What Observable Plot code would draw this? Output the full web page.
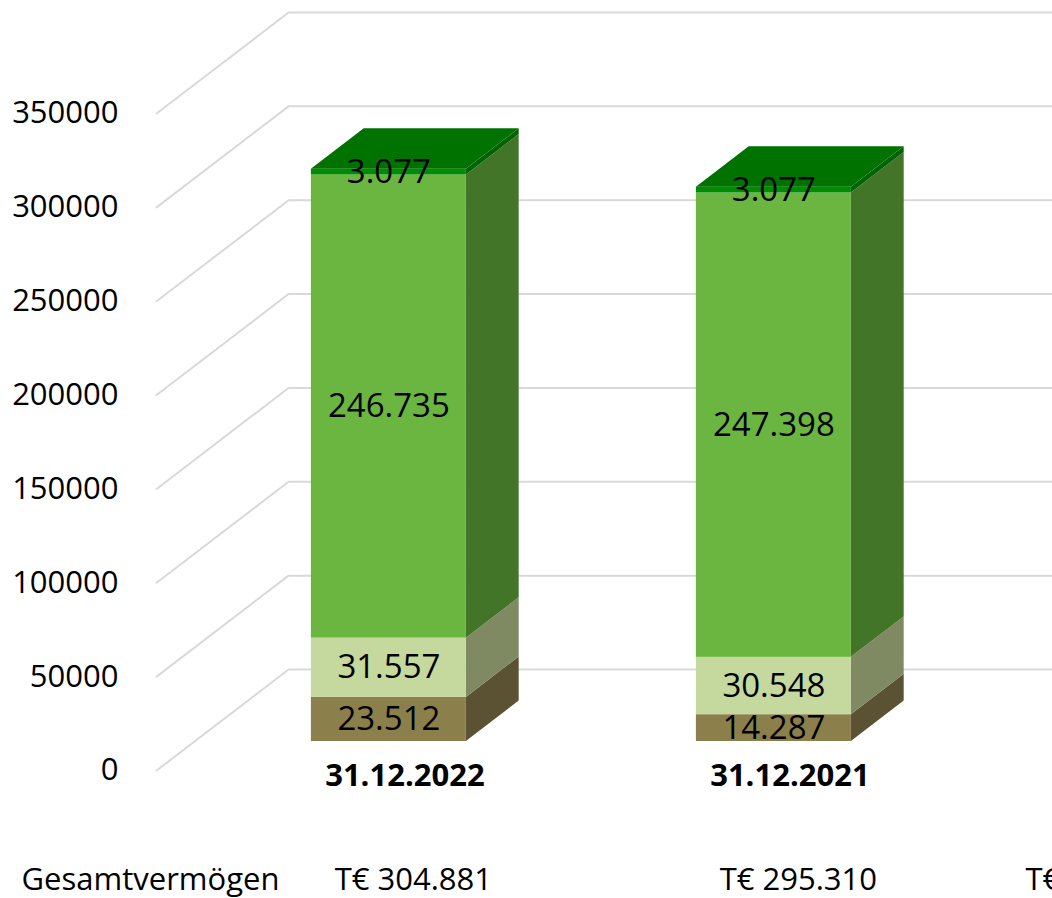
<!DOCTYPE html>
<html>
<head>
<meta charset="utf-8">
<script src="https://cdn.jsdelivr.net/npm/d3@7"></script>
<script src="https://cdn.jsdelivr.net/npm/@observablehq/plot@0.6"></script>
<style>
  html, body { margin: 0; padding: 0; background: #fff; overflow: hidden; }
  #chart svg { overflow: hidden !important; }
</style>
</head>
<body>
<div id="chart"></div>
<script>
// ---------- data ----------
const categories = ["31.12.2022", "31.12.2021"];
const segBrown = [23512, 14287];
const segLight = [31557, 30548];
const segGreen = [246735, 247398];
const segDark  = [3077, 3077];
const yTicks = [0, 50000, 100000, 150000, 200000, 250000, 300000, 350000];
const rowLabel = "Gesamtvermögen";
const partialLabel = ["T€"]; // third column, cut off at the right edge

// ---------- styles ----------
const frontColors = ["#8B7F4C", "#C5D89E", "#6AB641", "#008C00"];
const sideColors  = ["#5A5233", "#7F8A62", "#437529", "#006200"];
const topColor = "#007200";
const gridColor = "#d9d9d9";

// ---------- layout (3D oblique projection in data units) ----------
const W = 1052, H = 898;
const PX_PER_UNIT = 385;          // category spacing
const X0PX = 158;                 // pixel of floor front-left (x = -0.5)
const PX_PER_VAL = 1.8771 / 1000; // pixels per value unit
const Y0PX = 770;                 // pixel of value 0 on the front plane
const xDomain = [-0.5 - X0PX / PX_PER_UNIT, -0.5 + (W - X0PX) / PX_PER_UNIT];
const yDomain = [-(H - Y0PX) / PX_PER_VAL, Y0PX / PX_PER_VAL];
const DX = 132 / PX_PER_UNIT;     // full depth offset in x units
const DV = 101 / PX_PER_VAL;      // full depth offset in value units
const z0 = 0.287, z1 = 0.687;     // bar depth range
const halfW = 77.5 / PX_PER_UNIT;

const series = [segBrown, segLight, segGreen, segDark];
const de = d3.formatLocale({decimal: ",", thousands: ".", grouping: [3], currency: ["", "€"]});
const fmt = de.format(",d");

const fronts = [], sides = [], tops = [], labels = [], totals = [];
categories.forEach((cat, i) => {
  let acc = 0;
  series.forEach((vals, k) => {
    const a = acc, b = acc + vals[i];
    acc = b;
    fronts.push({k, x1: i - halfW + z0 * DX, x2: i + halfW + z0 * DX, y1: a + z0 * DV, y2: b + z0 * DV});
    const id = `${i}-${k}`;
    sides.push({id, k, x: i + halfW + z0 * DX, y1: a + z0 * DV, y2: b + z0 * DV});
    sides.push({id, k, x: i + halfW + z1 * DX, y1: a + z1 * DV, y2: b + z1 * DV});
    labels.push({x: i + z0 * DX, y: (a + b) / 2 + z0 * DV, text: fmt(vals[i])});
  });
  tops.push({id: i, y: acc + z0 * DV, x1: i - halfW + z0 * DX, x2: i + halfW + z0 * DX});
  tops.push({id: i, y: acc + z1 * DV, x1: i - halfW + z1 * DX, x2: i + halfW + z1 * DX});
  totals.push({x: i + 0.162, text: "T€ " + fmt(acc)});
});

const grid = [];
yTicks.forEach(t => {
  grid.push({t, x: -0.505, y: t});
  grid.push({t, x: -0.505 + DX, y: t + DV});
  grid.push({t, x: 3, y: t + DV});
});

const chart = Plot.plot({
  width: W,
  height: H,
  margin: 0,
  style: {fontFamily: "'Open Sans', 'Noto Sans', sans-serif", background: "#fff"},
  x: {domain: xDomain, axis: null},
  y: {domain: yDomain, axis: null},
  color: {type: "identity"},
  marks: [
    Plot.line(grid, {x: "x", y: "y", z: "t", stroke: gridColor, strokeWidth: 2}),
    Plot.text(yTicks, {x: -0.5, y: d => d, text: d => String(d), textAnchor: "end", dx: -40, fontSize: 31, fill: "#000"}),
    Plot.area(sides, {x1: "x", y1: "y1", y2: "y2", z: "id", fill: d => sideColors[d.k]}),
    Plot.rect(fronts, {x1: "x1", x2: "x2", y1: "y1", y2: "y2", fill: d => frontColors[d.k]}),
    Plot.area(tops, {y1: "y", x1: "x1", x2: "x2", z: "id", fill: topColor}),
    Plot.text(labels, {x: "x", y: "y", text: "text", fontSize: 33, fill: "#000"}),
    Plot.text(categories, {x: (d, i) => i + 0.14, y: 0, dy: 6, text: d => d, fontSize: 31, fontWeight: "bold", fill: "#000"}),
    Plot.text([rowLabel], {x: -0.5, y: 0, dx: -8, dy: 110, text: d => d, fontSize: 31, fill: "#000"}),
    Plot.text(totals, {x: "x", y: 0, dy: 110, text: "text", fontSize: 31, fill: "#000"}),
    Plot.text(partialLabel, {x: -0.5 + (1025 - X0PX) / PX_PER_UNIT, y: 0, dy: 110, text: d => d, textAnchor: "start", fontSize: 31, fill: "#000"})
  ]
});
document.getElementById("chart").appendChild(chart);
</script>
</body>
</html>
